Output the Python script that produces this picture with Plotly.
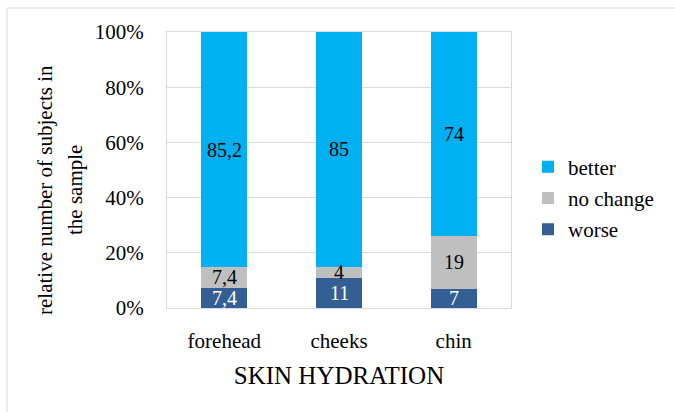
import plotly.graph_objects as go

# Share of subjects (%) per facial area, by change in skin hydration
areas = ["forehead", "cheeks", "chin"]
worse = [7.4, 11, 7]
no_change = [7.4, 4, 19]
better = [85.2, 85, 74]
y_ticks = [0, 20, 40, 60, 80, 100]

series = [
    ("worse", worse, "#345f94", "white"),
    ("no change", no_change, "#bfbfbf", "black"),
    ("better", better, "#00b0f0", "black"),
]

FONT = "Liberation Serif"
FS = 21


def serif(s):
    return f"<span style='font-family:{FONT}'>{s}</span>"


def fmt(v):
    return f"{v:g}".replace(".", ",")


fig = go.Figure()
for i, (name, vals, color, _) in enumerate(series):
    fig.add_trace(go.Bar(
        name=serif(name), x=areas, y=vals, marker=dict(color=color, line=dict(width=0)),
        width=0.4, legendgroup=str(i), legendrank=len(series) - i, hoverinfo="skip",
    ))

# value labels centred in each stacked segment
base = [0.0] * len(areas)
for name, vals, color, tcolor in series:
    for j, (a, v) in enumerate(zip(areas, vals)):
        fig.add_annotation(x=a, y=base[j] + v / 2, text=fmt(v), showarrow=False,
                           font=dict(family=FONT, size=20, color=tcolor),
                           xref="x", yref="y")
        base[j] += v

L, R, T, B = 167, 164, 32, 104
W, H = 675, 412
pw, ph = W - L - R, H - T - B


def px_x(x):
    return (x - L) / pw


def px_y(y):
    return (H - B - y) / ph


# y-axis title, two lines
for txt, cx in [("relative number of subjects in", 45), ("the sample", 75)]:
    fig.add_annotation(x=px_x(cx), y=px_y(190), xref="paper", yref="paper", text=txt,
                       textangle=-90, showarrow=False,
                       font=dict(family=FONT, size=FS, color="black"),
                       xanchor="center", yanchor="middle")

# outer chart frame
fig.add_shape(type="rect", xref="paper", yref="paper",
              x0=px_x(7), x1=px_x(W + 5), y0=px_y(H + 5), y1=px_y(8),
              line=dict(color="#d9d9d9", width=1), fillcolor="rgba(0,0,0,0)", layer="below")

fig.update_layout(
    width=W, height=H, barmode="stack",
    margin=dict(l=L, r=R, t=T, b=B, pad=0),
    paper_bgcolor="white", plot_bgcolor="white",
    font=dict(family=FONT, size=FS, color="black"),
    showlegend=True,
    legend=dict(traceorder="grouped", x=px_x(528), y=px_y(198),
                xanchor="left", yanchor="middle", tracegroupgap=1,
                bgcolor="rgba(0,0,0,0)", itemwidth=30),
    xaxis=dict(title=dict(text="SKIN HYDRATION", standoff=14),
               tickvals=areas, ticktext=[serif(a) for a in areas],
               showline=True, linecolor="#d9d9d9", mirror=True, ticks="",
               ticklabelstandoff=14, range=[-0.5, 2.5]),
    yaxis=dict(range=[0, 100], tickvals=y_ticks, ticktext=[serif(f"{t}%") for t in y_ticks],
               showgrid=True, gridcolor="#d9d9d9", showline=True, linecolor="#d9d9d9",
               mirror=True, ticks="", ticklabelstandoff=18, zeroline=False),
)

fig.write_html("out.html")
